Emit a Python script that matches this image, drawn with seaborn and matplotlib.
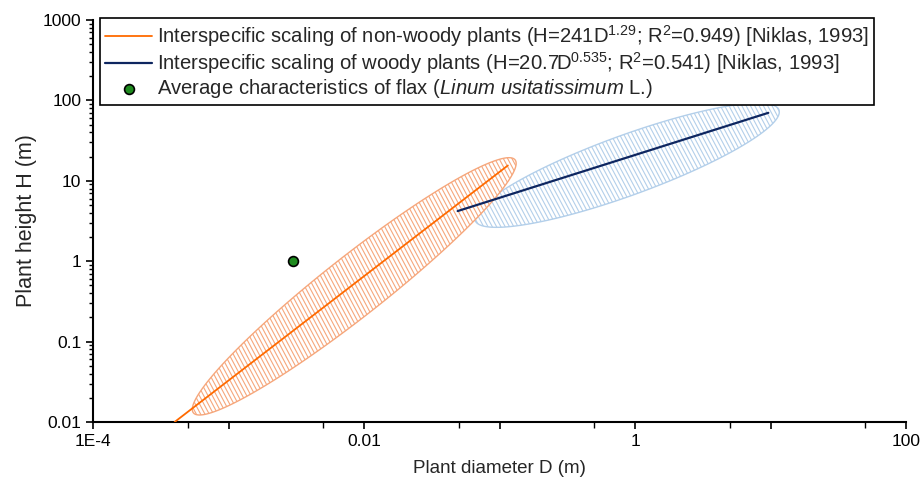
import numpy as np
import pandas as pd
import seaborn as sns
import matplotlib.pyplot as plt
from matplotlib.patches import Polygon
from matplotlib.collections import LineCollection
from matplotlib.ticker import FixedLocator, FixedFormatter, LogLocator, NullFormatter

# values
nonwoody_D = [4.0e-4, 0.115]
nonwoody_H = [0.01, 15.5]
woody_D = [0.049, 9.6]
woody_H = [4.2, 70.0]
flax_D = [0.003]
flax_H = [1.0]

# ellipse ends (major axis tips) in data units
nonwoody_tips_D = [5.5e-4, 0.13]
nonwoody_tips_H = [0.013, 18.2]
woody_tips_D = [0.066, 11.5]
woody_tips_H = [3.2, 76.0]

x_ticks = [1e-4, 1e-3, 1e-2, 1e-1, 1, 10, 100]
x_labels = ["1E-4", "", "0.01", "", "1", "", "100"]
x_minor = [5e-4, 5e-3, 5e-2, 0.5, 5, 50]
y_ticks = [0.01, 0.1, 1, 10, 100, 1000]
y_labels = ["0.01", "0.1", "1", "10", "100", "1000"]

lab_nonwoody = r"Interspecific scaling of non-woody plants (H=241D$^{1.29}$; R$^{2}$=0.949) [Niklas, 1993]"
lab_woody = r"Interspecific scaling of woody plants (H=20.7D$^{0.535}$; R$^{2}$=0.541) [Niklas, 1993]"
lab_flax = r"Average characteristics of flax ($\mathit{Linum\ usitatissimum}$ L.)"

sns.set_style("ticks")
plt.rcParams['font.family'] = ['Liberation Sans', 'DejaVu Sans']
plt.rcParams['mathtext.fontset'] = 'custom'
plt.rcParams['mathtext.rm'] = 'Liberation Sans'
plt.rcParams['mathtext.it'] = 'Liberation Sans:italic'

W_IN, H_IN, DPI = 9.21, 4.87, 100
fig = plt.figure(figsize=(W_IN, H_IN), dpi=DPI)
ax = fig.add_axes([0.101, 0.1335, 0.883, 0.8255])
ax.set(xscale="log", yscale="log", xlim=(1e-4, 100), ylim=(0.01, 1000))

# pixels per decade, used so ellipses / stripes look right on screen
axw = 0.883 * W_IN * DPI
axh = 0.8255 * H_IN * DPI
sx = axw / 6.0
sy = axh / 5.0


def ellipse_pts(tD, tH, half_w, n=300):
    p1 = np.array([np.log10(tD[0]) * sx, np.log10(tH[0]) * sy])
    p2 = np.array([np.log10(tD[1]) * sx, np.log10(tH[1]) * sy])
    c = (p1 + p2) / 2
    u = (p2 - p1) / 2
    v = np.array([-u[1], u[0]]) / np.linalg.norm(u) * half_w
    t = np.linspace(0, 2 * np.pi, n)
    pts = c + np.outer(np.cos(t), u) + np.outer(np.sin(t), v)
    return np.column_stack([10 ** (pts[:, 0] / sx), 10 ** (pts[:, 1] / sy)])


def hatched(pts, col, face, z):
    patch = Polygon(pts, closed=True, facecolor=face, edgecolor=col, lw=1.0, zorder=z)
    ax.add_patch(patch)
    # steep back-slash stripes, clipped to the ellipse
    step, ang = 4.3, np.deg2rad(62)
    dx = axh / np.tan(ang)
    x0 = np.arange(-dx, axw + step, step)
    segs = [[(a / axw, 1.0), ((a + dx) / axw, 0.0)] for a in x0]
    lc = LineCollection(segs, colors=col, linewidths=0.8, transform=ax.transAxes, zorder=z)
    ax.add_collection(lc)
    lc.set_clip_path(patch)


hatched(ellipse_pts(woody_tips_D, woody_tips_H, 30), "#b3cfea", "none", 1)
hatched(ellipse_pts(nonwoody_tips_D, nonwoody_tips_H, 30), "#f6a77c", "white", 2)

sns.lineplot(x=nonwoody_D, y=nonwoody_H, color="#ff6a00", lw=1.3, label=lab_nonwoody, ax=ax, zorder=4)
sns.lineplot(x=woody_D, y=woody_H, color="#0e2660", lw=1.6, label=lab_woody, ax=ax, zorder=4)
sns.scatterplot(x=flax_D, y=flax_H, color="#1e8a1e", edgecolor="black", linewidth=1.2, s=50,
                label=lab_flax, ax=ax, zorder=5)

ax.xaxis.set_major_locator(FixedLocator(x_ticks))
ax.xaxis.set_major_formatter(FixedFormatter(x_labels))
ax.xaxis.set_minor_locator(FixedLocator(x_minor))
ax.xaxis.set_minor_formatter(NullFormatter())
ax.yaxis.set_major_locator(FixedLocator(y_ticks))
ax.yaxis.set_major_formatter(FixedFormatter(y_labels))
ax.yaxis.set_minor_locator(LogLocator(base=10, subs=np.arange(2, 10)))
ax.yaxis.set_minor_formatter(NullFormatter())
ax.tick_params(which="major", length=5, width=1.2, labelsize=12.5, color="black", labelcolor="black")
ax.tick_params(which="minor", length=3, width=1.0, color="black")
ax.tick_params(axis="x", which="minor", length=4)

sns.despine(ax=ax)
for s in ["left", "bottom"]:
    ax.spines[s].set_linewidth(1.5)
    ax.spines[s].set_color("black")

ax.set_xlabel("Plant diameter D (m)", fontsize=13.5, labelpad=8)
ax.set_ylabel("Plant height H (m)", fontsize=15.5, labelpad=4)

leg = ax.legend(loc="upper left", bbox_to_anchor=(0.009, 1.005), borderaxespad=0, frameon=True,
                fancybox=False, edgecolor="black", framealpha=1, borderpad=0.25, handlelength=2.3,
                handletextpad=0.25, labelspacing=0.06, prop={"size": 14.6})
leg.get_frame().set_linewidth(1.2)

fig.savefig("out.png", dpi=DPI)
